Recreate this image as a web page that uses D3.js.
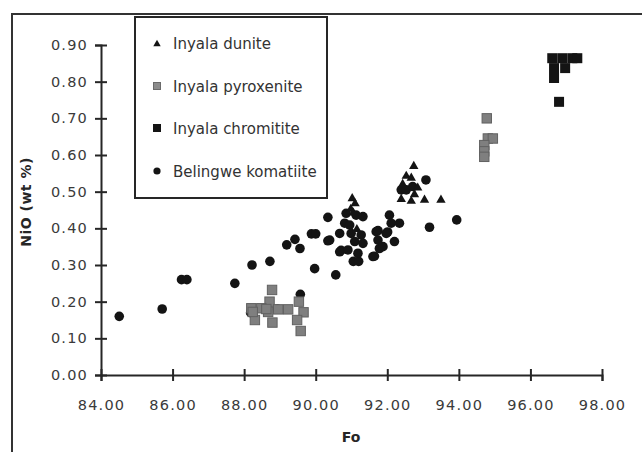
<!DOCTYPE html>
<html><head><meta charset="utf-8">
<script src="https://cdn.jsdelivr.net/npm/d3@7"></script>
<style>body{margin:0;background:#fff}svg{display:block}</style>
</head><body><svg id="c" width="642" height="452"></svg>
<script>
const xTicks = [84, 86, 88, 90, 92, 94, 96, 98];
const yTicks = [0, 0.1, 0.2, 0.3, 0.4, 0.5, 0.6, 0.7, 0.8, 0.9];
const seriesNames = ["Inyala dunite", "Inyala pyroxenite", "Inyala chromitite", "Belingwe komatiite"];

const dunite = [
  [91.02,0.484],[91.10,0.47],[90.98,0.455],[91.05,0.445],[91.15,0.40],
  [92.74,0.572],[92.53,0.545],[92.67,0.54],[92.43,0.523],[92.85,0.513],
  [92.39,0.482],[92.67,0.477],[93.04,0.48],[93.50,0.48],[92.76,0.495]
];
const pyroxenite = [
  [88.78,0.232],[88.71,0.20],[88.20,0.182],[88.48,0.182],[88.95,0.179],
  [89.23,0.179],[88.30,0.15],[88.79,0.143],[89.53,0.20],[89.66,0.171],
  [89.48,0.15],[89.58,0.12],[88.24,0.172],[88.67,0.172],[88.62,0.18],
  [94.78,0.70],[94.81,0.645],[94.95,0.645],[94.71,0.627],[94.71,0.61],[94.71,0.595]
];
const chromitite = [
  [96.61,0.864],[96.89,0.864],[97.17,0.864],[97.31,0.864],
  [96.66,0.837],[96.97,0.837],[96.66,0.81],[96.80,0.745]
];
const komatiite = [
  [84.51,0.16],[85.71,0.18],[86.25,0.26],[86.40,0.26],[87.74,0.25],
  [88.22,0.30],[88.72,0.31],[89.19,0.355],[89.42,0.37],[89.56,0.345],
  [89.97,0.29],[89.57,0.22],[88.18,0.17],[88.93,0.18],[89.88,0.385],
  [90.00,0.385],[90.34,0.366],[90.34,0.43],[90.56,0.273],[90.71,0.34],
  [91.05,0.31],[91.20,0.31],[91.64,0.324],[91.78,0.345],[91.74,0.394],
  [92.01,0.39],[93.18,0.403],[93.94,0.423],[92.39,0.505],[93.08,0.532],
  [90.85,0.441],[91.13,0.436],[91.32,0.432],[90.81,0.414],[90.95,0.409],
  [90.67,0.386],[90.99,0.386],[91.27,0.382],[91.09,0.364],[91.32,0.359],
  [90.67,0.336],[90.90,0.341],[91.18,0.332],[90.39,0.368],[92.06,0.436],
  [92.34,0.414],[92.11,0.414],[91.69,0.391],[91.97,0.386],[92.20,0.364],
  [91.74,0.368],[91.88,0.350],[91.60,0.323],[92.53,0.505],[92.71,0.514]
];

const svg = d3.select("#c");
const font = "'DejaVu Sans', sans-serif";
const ink = "#262626";

// outer frame
svg.append("rect").attr("x",12).attr("y",14).attr("width",700).attr("height",500)
  .attr("fill","none").attr("stroke","#333").attr("stroke-width",2);

const x = d3.scaleLinear().domain([84,98]).range([101,602]);
const y = d3.scaleLinear().domain([0,0.9]).range([375,45]);

// axes
const xAxis = svg.append("g").attr("transform","translate(0,375)")
  .call(d3.axisBottom(x).tickValues(xTicks).tickFormat(d3.format(".2f")).tickSizeOuter(0).tickSize(6).tickPadding(19));
const yAxis = svg.append("g").attr("transform","translate(101,0)")
  .call(d3.axisLeft(y).tickValues(yTicks).tickFormat(d3.format(".2f")).tickSizeOuter(0).tickSize(6).tickPadding(7));
[xAxis, yAxis].forEach(g => {
  g.select(".domain").attr("stroke",ink).attr("stroke-width",2);
  g.selectAll(".tick line").attr("stroke",ink).attr("stroke-width",2);
  g.selectAll(".tick text").attr("fill","#3a3a3a").attr("font-family",font).attr("font-size",14.5).attr("letter-spacing",1.2);
});
xAxis.selectAll(".tick line").attr("y1",-6).attr("y2",6);
yAxis.selectAll(".tick line").attr("x1",-6).attr("x2",6);

// axis titles
svg.append("text").attr("x",351).attr("y",442).attr("text-anchor","middle")
  .attr("font-family",font).attr("font-weight","bold").attr("font-size",14).attr("fill",ink).text("Fo");
svg.append("text").attr("transform","translate(31,202) rotate(-90)").attr("text-anchor","middle")
  .attr("font-family",font).attr("font-weight","bold").attr("font-size",14).attr("letter-spacing",0.5).attr("fill",ink).text("NiO (wt %)");

// data
const tri = d3.symbol().type(d3.symbolTriangle).size(38);
svg.append("g").selectAll("circle").data(komatiite).join("circle")
  .attr("cx",d=>x(d[0])).attr("cy",d=>y(d[1])).attr("r",4.8).attr("fill","#141414");
svg.append("g").selectAll("rect").data(pyroxenite).join("rect")
  .attr("x",d=>x(d[0])-4.7).attr("y",d=>y(d[1])-4.7).attr("width",9.4).attr("height",9.4)
  .attr("fill","#7f7f7f").attr("stroke","#616161").attr("stroke-width",1);
svg.append("g").selectAll("rect").data(chromitite).join("rect")
  .attr("x",d=>x(d[0])-5).attr("y",d=>y(d[1])-5).attr("width",10).attr("height",10)
  .attr("fill","#141414");
svg.append("g").selectAll("path").data(dunite).join("path")
  .attr("d",tri).attr("transform",d=>`translate(${x(d[0])},${y(d[1])+1})`).attr("fill","#141414");

// legend
const lg = svg.append("g");
lg.append("rect").attr("x",135).attr("y",17).attr("width",192).attr("height",181)
  .attr("fill","#fff").attr("stroke",ink).attr("stroke-width",2);
const rows = [43, 86, 128, 171];
const items = lg.selectAll("g.item").data(seriesNames).join("g").attr("class","item")
  .attr("transform",(d,i)=>`translate(157,${rows[i]})`);
items.each(function(d,i){
  const g = d3.select(this);
  if(i===0) g.append("path").attr("d",d3.symbol().type(d3.symbolTriangle).size(24)).attr("transform","translate(0,1)").attr("fill","#141414");
  if(i===1) g.append("rect").attr("x",-3.5).attr("y",-3.5).attr("width",7).attr("height",7).attr("fill","#8c8c8c").attr("stroke","#6a6a6a");
  if(i===2) g.append("rect").attr("x",-4).attr("y",-4).attr("width",8).attr("height",8).attr("fill","#141414");
  if(i===3) g.append("circle").attr("r",3.6).attr("fill","#141414");
  g.append("text").attr("x",16).attr("y",5.5).attr("font-family",font).attr("font-size",15)
    .attr("fill","#333").text(d);
});
</script></body></html>
